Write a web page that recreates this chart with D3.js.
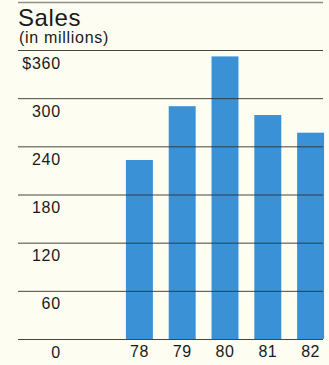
<!DOCTYPE html>
<html>
<head>
<meta charset="utf-8">
<script src="https://cdn.jsdelivr.net/npm/d3@7/dist/d3.min.js"></script>
<style>
  html, body { margin: 0; padding: 0; background: #fdfdf2; }
  svg { display: block; }
  text { font-family: "Liberation Sans", Arial, Helvetica, sans-serif; fill: #1a1a1a; }
</style>
</head>
<body>
<script>
// Annual sales, millions of dollars
const years = ["78", "79", "80", "81", "82"];
const sales = [223, 290, 352, 279, 257];
const tickValues = [0, 60, 120, 180, 240, 300, 360];
const tickLabels = ["0", "60", "120", "180", "240", "300", "$360"];

const W = 329, H = 365;
const svg = d3.select("body").append("svg").attr("width", W).attr("height", H);

const y = d3.scaleLinear().domain([0, 360]).range([339, 50]);
const x = d3.scaleBand().domain(years).range([118, 332]).paddingInner(0.37).paddingOuter(0.185);

const ruleX0 = 18, ruleX1 = 323;

// header rule
svg.append("line")
  .attr("x1", ruleX0).attr("x2", ruleX1)
  .attr("y1", 2.5).attr("y2", 2.5)
  .attr("stroke", "#8f8f86").attr("stroke-width", 1.5);

// title
svg.append("text").attr("x", 18).attr("y", 26)
  .style("font-size", "24px").style("letter-spacing", "0.6px").text("Sales");
svg.append("text").attr("x", 19).attr("y", 43)
  .style("font-size", "16px").style("letter-spacing", "0.7px").text("(in millions)");

// bars
svg.append("g").selectAll("rect").data(years).join("rect")
  .attr("x", d => x(d))
  .attr("width", x.bandwidth())
  .attr("y", (d, i) => y(sales[i]))
  .attr("height", (d, i) => y(0) - y(sales[i]))
  .attr("fill", "#3b91d6");

// gridlines drawn over the bars
const yAxis = d3.axisLeft(y).tickValues(tickValues).tickSize(0).tickFormat("");
const gGrid = svg.append("g").call(yAxis);
gGrid.select(".domain").remove();
gGrid.selectAll(".tick line")
  .attr("x1", ruleX0).attr("x2", ruleX1)
  .attr("stroke", "#33332a").attr("stroke-opacity", 0.9).attr("stroke-width", 1);

// value labels sit just under each gridline
svg.append("g").selectAll("text").data(tickValues).join("text")
  .attr("x", 61)
  .attr("y", d => y(d) + 18.5)
  .attr("text-anchor", "end")
  .style("font-size", "16px").style("letter-spacing", "0.8px")
  .text((d, i) => tickLabels[i]);

// year labels
const xAxis = d3.axisBottom(x).tickSize(0).tickPadding(0);
const gX = svg.append("g").attr("transform", "translate(0,357)").call(xAxis);
gX.select(".domain").remove();
gX.selectAll(".tick text")
  .attr("y", 0).attr("dy", 0)
  .attr("fill", "#1a1a1a")
  .style("font-family", "\"Liberation Sans\", Arial, sans-serif")
  .style("font-size", "16px").style("letter-spacing", "0.5px");
</script>
</body>
</html>
